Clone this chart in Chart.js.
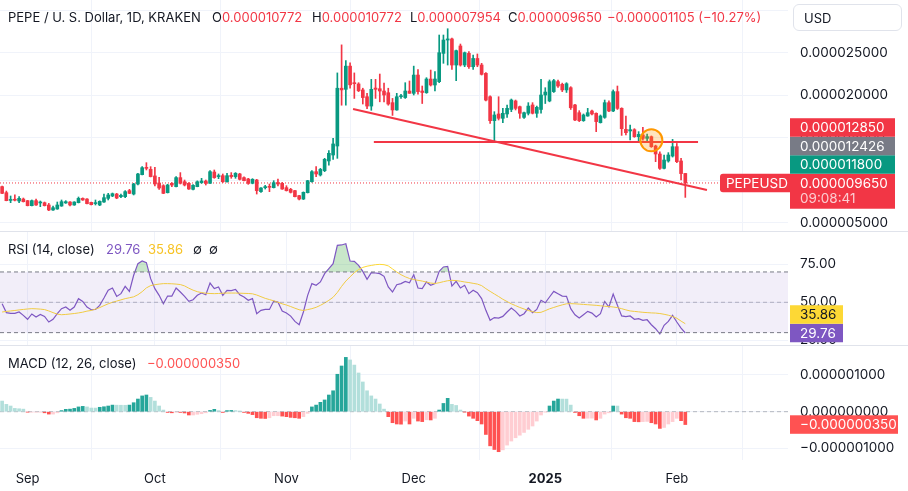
<!DOCTYPE html>
<html>
<head>
<meta charset="utf-8">
<script src="https://cdn.jsdelivr.net/npm/chart.js@4.4.1/dist/chart.umd.min.js"></script>
<style>
  body { margin: 0; background: #fff; }
  #wrap { position: relative; width: 908px; height: 491px; overflow: hidden; font-family: Inter, sans-serif; }
  canvas { position: absolute; left: 0; }
  .sep { position: absolute; left: 0; width: 908px; height: 1px; background: #e0e3eb; }
  .txt { position: absolute; font-size: 13px; line-height: 16px; color: #131722; white-space: nowrap; }
  .red { color: #F23645; }
  #usd { position: absolute; left: 793px; top: 4px; width: 109px; height: 27px; border: 1px solid #e0e3eb;
         border-radius: 6px; background: #fff; font-size: 13px; line-height: 27px; padding-left: 10px; box-sizing: border-box; color: #131722; }
</style>
</head>
<body>
<div id="wrap">
  <canvas id="price" width="908" height="231" style="top:0"></canvas>
  <div class="sep" style="top:231px"></div>
  <canvas id="rsi" width="908" height="113" style="top:232px"></canvas>
  <div class="sep" style="top:345px"></div>
  <canvas id="macd" width="908" height="145" style="top:346px"></canvas>

  <div class="txt" style="left:8px;top:9px">PEPE / U. S. Dollar, 1D, KRAKEN</div>
  <div class="txt" style="left:212px;top:9px">O<span class="red" id="vO"></span></div>
  <div class="txt" style="left:312px;top:9px">H<span class="red" id="vH"></span></div>
  <div class="txt" style="left:410px;top:9px">L<span class="red" id="vL"></span></div>
  <div class="txt" style="left:508px;top:9px">C<span class="red" id="vC"></span></div>
  <div class="txt red" style="left:607px;top:9px" id="vChg"></div>
  <div id="usd">USD</div>

  <div class="txt" style="left:8px;top:241px">RSI (14, close)</div>
  <div class="txt" style="left:106px;top:241px;color:#7E57C2" id="vRsi"></div>
  <div class="txt" style="left:148px;top:241px;color:#F7C325" id="vRsiMa"></div>
  <div class="txt" style="left:193px;top:241px">∅</div>
  <div class="txt" style="left:209px;top:241px">∅</div>

  <div class="txt" style="left:8px;top:355px">MACD (12, 26, close)</div>
  <div class="txt" style="left:147px;top:355px;color:#FF5252" id="vMacd"></div>
</div>
<script>
// daily candles from 2024-08-26 (index 0) to 2025-02-03 (index 161)
// prices are in millionths of a US dollar
const open = [9.22,8.51,7.60,7.70,7.53,7.76,7.57,6.98,7.57,7.30,7.33,7.06,6.47,6.59,6.94,7.30,7.41,7.06,7.33,7.84,
  7.76,7.37,7.22,7.06,7.41,7.84,8.12,8.35,8.04,8.04,8.75,8.35,9.53,10.63,11.45,11.25,10.48,9.65,9.33,8.51,
  9.61,9.22,10.28,9.80,9.61,8.90,9.22,9.69,9.88,9.61,10.94,10.40,10.51,9.80,10.55,10.40,10.71,10.28,10.12,9.61,
  10.00,8.63,9.10,9.22,9.10,9.69,9.61,9.10,8.90,8.75,8.16,7.76,8.51,9.80,10.98,10.59,11.10,12.24,12.94,14.00,
  20.80,20.67,23.40,21.45,21.30,20.60,19.80,18.70,20.82,20.74,20.47,20.27,19.10,18.24,19.80,19.70,20.47,20.20,22.35,20.47,
  20.27,21.88,21.18,21.57,24.90,26.47,26.60,23.53,25.77,23.53,24.90,23.33,24.30,23.53,22.55,19.80,16.98,17.77,17.26,17.77,
  18.30,19.30,18.63,17.37,17.85,18.83,17.85,18.30,20.00,19.30,20.40,21.57,21.26,20.60,20.86,18.83,17.92,16.98,17.53,18.12,
  17.85,16.75,17.37,19.10,18.12,20.40,18.43,15.96,15.77,15.92,15.10,15.30,14.90,15.10,14.00,13.06,11.37,12.24,12.82,13.92,
  12.24,10.772];
const high = [9.30,8.70,8.12,8.27,8.04,7.88,7.60,7.65,7.76,7.53,7.41,7.25,6.94,7.41,7.65,7.57,7.45,7.45,8.00,7.90,
  7.80,7.40,7.65,7.55,8.35,8.43,8.47,8.43,8.35,8.75,8.90,9.61,10.79,11.57,12.04,11.57,11.49,10.32,9.45,9.50,
  9.69,10.40,10.87,10.00,9.70,9.45,9.90,10.20,10.00,11.10,11.18,10.71,10.71,10.79,10.87,10.87,10.79,10.36,10.20,10.16,
  10.08,9.10,9.37,9.53,9.92,10.12,9.73,9.33,9.02,8.80,8.20,8.60,9.96,11.10,11.57,11.37,12.55,13.45,14.90,22.60,
  25.90,24.04,23.80,22.60,21.45,20.80,20.20,21.84,21.84,22.47,21.40,20.80,19.60,20.20,20.08,21.45,21.65,23.40,23.00,21.06,
  22.04,22.94,22.75,27.06,27.06,27.80,26.70,25.30,26.00,25.06,25.10,24.70,24.83,23.73,22.63,19.90,18.04,19.80,18.43,18.83,
  19.53,19.41,18.70,18.00,19.10,19.10,18.70,21.84,20.86,21.77,21.84,21.77,21.40,21.45,20.98,18.90,18.16,17.77,18.43,18.24,
  17.90,17.65,19.41,19.33,20.60,21.06,18.50,17.53,16.47,16.04,15.69,16.20,15.40,15.18,14.10,13.33,12.94,13.22,14.78,14.30,
  12.55,10.772];
const low = [8.40,7.55,7.33,7.55,7.33,7.41,6.95,6.95,7.00,6.86,6.94,6.39,6.43,6.55,6.90,7.25,6.94,7.02,7.30,7.60,
  7.20,7.06,7.06,6.98,7.37,7.65,8.04,7.80,7.92,7.92,8.40,8.24,9.41,10.60,11.18,10.36,9.30,8.90,8.39,8.47,
  9.22,9.18,9.53,9.30,8.90,8.82,9.20,9.60,9.41,9.60,10.20,10.16,9.70,9.75,10.20,10.20,10.00,9.88,9.49,9.55,
  8.35,8.55,8.94,8.63,9.06,9.30,8.90,8.70,8.47,8.00,7.65,7.70,8.47,9.75,10.40,10.47,10.98,11.76,12.43,12.55,
  18.80,18.80,20.80,19.60,20.40,18.94,18.40,18.20,19.60,19.20,19.20,18.80,17.60,18.20,19.60,19.60,20.20,20.00,20.10,19.00,
  20.20,21.06,20.47,21.45,23.73,23.53,23.00,21.70,23.40,23.33,23.14,23.00,23.33,22.35,19.30,16.67,14.51,17.06,16.75,17.37,
  18.04,18.24,17.26,17.26,17.65,17.77,17.37,17.85,19.00,19.20,20.30,20.90,20.40,20.30,18.30,16.98,16.87,16.90,17.50,17.65,
  15.69,16.70,17.26,18.04,18.04,18.30,15.25,15.30,14.71,15.02,14.51,14.70,14.63,13.84,12.16,11.25,11.30,12.10,12.70,12.04,
  10.00,7.954];
const close = [8.43,7.57,7.70,7.62,7.84,7.45,6.98,7.57,7.06,7.35,6.98,6.47,6.74,7.06,7.45,7.45,7.06,7.41,7.84,7.65,
  7.22,7.10,7.30,7.49,7.92,8.24,8.39,7.88,8.20,8.63,8.43,9.53,10.71,11.45,11.37,10.40,9.53,9.06,8.43,9.41,
  9.41,10.28,9.61,9.41,8.94,9.37,9.80,9.88,9.61,10.98,10.28,10.51,9.80,10.51,10.40,10.79,10.08,9.92,9.61,10.08,
  8.75,9.06,9.22,9.14,9.69,9.53,8.94,8.75,8.55,8.04,7.76,8.55,9.92,10.98,10.71,11.25,12.43,13.14,14.24,20.80,
  20.60,23.40,21.20,21.33,20.50,19.70,18.70,20.67,20.67,20.47,20.00,18.94,18.24,19.80,19.85,20.47,20.20,22.35,20.40,20.30,
  21.88,21.18,21.88,24.98,26.47,26.60,23.53,25.22,23.53,24.98,23.33,24.30,23.53,22.43,19.40,16.98,17.65,17.26,17.85,18.43,
  19.41,18.43,17.85,17.92,18.70,17.85,18.55,20.00,20.35,21.57,21.69,21.06,20.60,21.33,18.50,17.06,16.98,17.65,17.92,17.77,
  16.87,17.53,19.10,18.12,20.40,18.43,16.04,15.57,15.92,15.10,15.37,14.90,15.10,13.92,13.06,11.37,12.35,12.94,13.92,12.16,
  10.755,9.65];

const rsi = [49.1,43.2,42.7,42.7,43.6,41.4,38.8,42.3,40.3,42.0,40.7,37.0,38.8,42.5,45.8,46.9,44.7,46.9,52.4,50.6,
  46.9,45.1,45.3,48.0,52.8,57.9,59.4,53.9,55.7,60.5,57.2,67.8,75.5,77.2,76.1,65.6,59.0,54.6,49.1,54.1,
  54.1,59.4,56.8,53.9,50.6,51.7,54.6,56.1,55.0,62.7,59.0,60.1,54.6,57.9,57.7,58.5,55.0,53.5,51.3,52.4,
  42.5,44.7,45.3,45.3,50.8,50.2,44.2,42.9,40.9,37.4,35.2,43.6,54.6,62.3,61.2,63.4,68.9,72.2,75.5,87.5,
  87.8,88.6,77.2,77.0,74.4,70.4,65.1,69.5,69.3,68.9,67.1,60.1,56.8,61.6,62.3,63.8,62.9,68.2,59.4,59.0,
  63.4,61.2,62.3,70.4,73.3,73.7,60.7,63.8,59.4,61.2,55.7,57.9,56.3,52.4,44.7,38.1,39.9,39.6,40.7,43.6,
  46.2,44.0,41.0,42.5,46.2,43.1,45.3,51.3,49.7,53.5,57.2,55.7,54.1,53.9,45.8,41.8,39.6,41.8,44.0,42.9,
  40.3,42.5,50.6,46.9,55.5,48.0,41.0,40.5,41.0,38.8,39.2,38.1,38.5,35.2,32.6,29.1,34.8,37.4,41.4,37.0,
  33.0,29.76];
const rsiMa = [43.6,44.0,44.3,44.6,45.0,45.3,45.6,45.8,45.7,45.5,45.2,44.3,43.2,42.2,41.8,42.0,42.3,42.6,43.0,43.5,
  44.2,44.6,45.5,46.5,47.8,49.0,50.0,50.8,51.6,52.4,53.0,53.6,55.0,57.0,59.5,61.0,61.6,62.0,62.3,62.3,
  62.2,62.0,61.7,60.8,59.3,58.0,57.0,56.4,56.0,55.8,55.7,55.8,56.0,56.1,56.1,56.1,56.0,55.9,55.8,55.6,
  54.8,53.7,52.6,51.8,51.0,50.0,49.0,48.2,47.2,46.1,45.1,44.6,45.2,45.8,46.7,48.0,49.5,51.3,53.3,56.5,
  60.5,64.0,66.8,69.5,71.6,73.0,73.8,74.3,74.8,75.0,74.8,74.0,72.0,70.0,68.2,66.8,65.7,65.0,64.5,64.0,
  63.3,62.7,62.4,62.9,63.6,64.2,64.5,64.3,63.9,63.4,63.0,62.5,62.0,61.0,59.0,57.2,55.5,53.8,52.0,50.5,
  49.0,47.8,46.6,45.6,44.6,43.8,43.2,43.4,44.5,45.7,46.6,47.5,48.3,49.0,49.1,49.0,48.8,48.6,48.4,48.2,
  48.0,47.7,47.4,47.2,46.9,46.5,45.8,45.0,44.3,44.0,43.7,43.4,43.2,43.0,42.9,42.6,42.1,41.5,40.6,39.5,
  37.6,35.86];

// MACD histogram, millionths of a US dollar
const macdHist = [0.29,0.2,0.155,0.09,0.08,0.07,-0.01,-0.01,-0.01,-0.01,-0.03,-0.065,-0.065,-0.03,0.03,0.065,0.07,0.09,0.13,0.145,
  0.13,0.1,0.099,0.12,0.135,0.155,0.18,0.178,0.176,0.175,0.18,0.245,0.345,0.43,0.455,0.39,0.29,0.155,0.045,-0.02,
  -0.03,-0.01,-0.02,-0.035,-0.09,-0.09,-0.07,-0.055,-0.03,0.035,0.065,0.03,-0.02,0.03,0.035,0.03,0.02,-0.02,-0.045,-0.08,
  -0.165,-0.18,-0.185,-0.165,-0.11,-0.11,-0.12,-0.135,-0.155,-0.165,-0.18,-0.135,-0.045,0.13,0.18,0.255,0.32,0.455,0.57,1.02,
  1.245,1.48,1.41,1.27,1.055,0.81,0.57,0.43,0.345,0.21,0.07,-0.135,-0.3,-0.335,-0.34,-0.255,-0.335,-0.18,-0.255,-0.27,
  -0.22,-0.225,-0.18,0.045,0.225,0.365,0.2,0.17,0.045,-0.01,-0.12,-0.18,-0.245,-0.335,-0.62,-0.93,-1.03,-1.09,-1.04,-0.91,
  -0.8,-0.71,-0.64,-0.565,-0.48,-0.39,-0.255,-0.09,-0.005,0.155,0.29,0.345,0.344,0.343,0.18,-0.02,-0.11,-0.18,-0.178,-0.176,
  -0.225,-0.18,-0.065,-0.03,0.155,0.154,-0.065,-0.165,-0.18,-0.27,-0.275,-0.27,-0.265,-0.3,-0.335,-0.455,-0.43,-0.335,-0.27,-0.18,
  -0.245,-0.35];

// x axis: day index of each month start
const monthTicks = [6, 36, 67, 97, 128, 159];
const monthLabels = ['Sep', 'Oct', 'Nov', 'Dec', '2025', 'Feb'];
const priceTicks = [5, 10, 15, 20, 25, 30];
const rsiTicks = [25, 50, 75];
const macdTicks = [-1, 0, 1];

// drawings on the price pane: [day index, price]
const trendDown = [[82.7, 18.35], [166.1, 8.82]];
const trendFlat = [[87.6, 14.47], [164, 14.47]];
const circleAt = [153, 14.67];
// extra price levels shown on the axis
const markerLevels = [
  { value: 11.8, bg: '#089981' },
  { value: 12.426, bg: '#787B86' },
  { value: 12.85, bg: '#F23645' }
];

const GREEN = '#089981', RED = '#F23645';
const X_MIN = -0.5, X_MAX = 185.2;
const last = close.length - 1;

Chart.defaults.font.family = 'Inter';
Chart.defaults.font.size = 13;
Chart.defaults.color = '#131722';

const fmtPrice = v => (v * 1e-6).toFixed(9).replace('-', '−');
const candleColor = i => close[i] >= open[i] ? GREEN : RED;

// header texts
document.getElementById('vO').textContent = fmtPrice(open[last]);
document.getElementById('vH').textContent = fmtPrice(high[last]);
document.getElementById('vL').textContent = fmtPrice(low[last]);
document.getElementById('vC').textContent = fmtPrice(close[last]);
const chg = close[last] - close[last - 1];
document.getElementById('vChg').textContent = fmtPrice(chg) + ' (' + (chg / close[last - 1] * 100).toFixed(2).replace('-', '−') + '%)';
document.getElementById('vRsi').textContent = rsi[last].toFixed(2);
document.getElementById('vRsiMa').textContent = rsiMa[last].toFixed(2);
document.getElementById('vMacd').textContent = fmtPrice(macdHist[last]);

function xScale(showLabels) {
  return {
    type: 'linear', min: X_MIN, max: X_MAX, offset: false,
    afterBuildTicks: s => { s.ticks = monthTicks.map(v => ({ value: v })); },
    grid: { color: '#f0f3fa', drawTicks: false },
    border: { display: false },
    ticks: {
      display: showLabels, padding: 11, maxRotation: 0, autoSkip: false,
      font: ctx => ({ family: 'Inter', size: 13, weight: ctx.index === 4 ? 'bold' : 'normal' }),
      callback: (v, i) => monthLabels[i]
    },
    afterFit: s => { s.height = showLabels ? 31 : 0; s.paddingLeft = 0; s.paddingRight = 0; }
  };
}

function yScale(min, max, ticks, fmt) {
  return {
    position: 'right', min: min, max: max,
    afterBuildTicks: s => { s.ticks = ticks.map(v => ({ value: v })); },
    grid: { color: '#f0f3fa', drawTicks: false },
    border: { display: false },
    ticks: { padding: 12, autoSkip: false, font: { family: 'Inter', size: 13.5 }, callback: fmt },
    afterFit: s => { s.width = 120; s.paddingTop = 0; s.paddingBottom = 0; }
  };
}

// coloured value boxes on the right axis, stacked upward when they overlap
const axisBadges = {
  id: 'axisBadges',
  afterDraw(chart, args, opts) {
    const ctx = chart.ctx, ys = chart.scales.y, right = chart.chartArea.right;
    ctx.save();
    ctx.font = '13.5px Inter';
    ctx.textBaseline = 'middle';
    if (opts.symbol) {
      const yc = ys.getPixelForValue(opts.symbol.value);
      ctx.fillStyle = RED;
      ctx.beginPath();
      ctx.roundRect(right - 68, yc - 9.25, 70, 18.5, [3, 0, 0, 3]);
      ctx.fill();
      ctx.fillStyle = '#fff';
      ctx.fillText(opts.symbol.text, right - 62, yc + 0.5);
    }
    let limit = Infinity;
    (opts.items || []).forEach(b => {
      const h = b.lines.length > 1 ? 35 : 18.5;
      let top = ys.getPixelForValue(b.value) - 9.25;
      if (top + h > limit) top = limit - h;
      ctx.fillStyle = b.bg;
      ctx.fillRect(right + 2, top, b.width, h);
      b.lines.forEach((t, k) => {
        ctx.fillStyle = k ? 'rgba(255,255,255,0.75)' : (b.fg || '#fff');
        ctx.fillText(t, right + 12, top + 9.75 + k * 15.5);
      });
      limit = top;
    });
    ctx.restore();
  }
};

const baseOptions = {
  responsive: false,
  animation: false,
  events: [],
  layout: { padding: 0, autoPadding: false },
  plugins: { legend: { display: false }, tooltip: { enabled: false } }
};

// price pane
new Chart(document.getElementById('price'), {
  type: 'bar',
  data: {
    datasets: [
      {
        type: 'line', order: 10,
        data: [{ x: X_MIN, y: close[last] }, { x: X_MAX, y: close[last] }],
        borderColor: RED, borderWidth: 1, borderDash: [1, 2], pointRadius: 0
      },
      {
        order: 3, grouped: false, barThickness: 1,
        data: open.map((o, i) => ({ x: i, y: [low[i], high[i]] })),
        backgroundColor: ctx => candleColor(ctx.dataIndex)
      },
      {
        order: 2, grouped: false, barThickness: 3, minBarLength: 1,
        data: open.map((o, i) => ({ x: i, y: [o, close[i]] })),
        backgroundColor: ctx => candleColor(ctx.dataIndex)
      },
      {
        type: 'line', order: 1,
        data: trendDown.map(p => ({ x: p[0], y: p[1] })),
        borderColor: RED, borderWidth: 2, pointRadius: 0
      },
      {
        type: 'line', order: 1,
        data: trendFlat.map(p => ({ x: p[0], y: p[1] })),
        borderColor: RED, borderWidth: 2, pointRadius: 0
      },
      {
        type: 'bubble', order: 0,
        data: [{ x: circleAt[0], y: circleAt[1] }],
        radius: 11, borderWidth: 2, borderColor: '#FF9800', backgroundColor: 'rgba(255,152,0,0.25)'
      }
    ]
  },
  options: Object.assign({}, baseOptions, {
    scales: { x: xScale(false), y: yScale(4.0, 31.18, priceTicks, fmtPrice) },
    plugins: Object.assign({}, baseOptions.plugins, {
      axisBadges: {
        symbol: { value: close[last], text: 'PEPEUSD' },
        items: [{ value: close[last], bg: RED, width: 105, lines: [fmtPrice(close[last]), '09:08:41'] }]
          .concat(markerLevels.map(m => ({ value: m.value, bg: m.bg, width: 105, lines: [fmtPrice(m.value)] })))
      }
    })
  }),
  plugins: [axisBadges]
});

// RSI pane
const flat = v => [{ x: X_MIN, y: v }, { x: X_MAX, y: v }];
new Chart(document.getElementById('rsi'), {
  type: 'line',
  data: {
    datasets: [
      { data: flat(70), borderColor: '#787B86', borderWidth: 1, borderDash: [4, 3], pointRadius: 0 },
      { data: flat(30), borderColor: '#787B86', borderWidth: 1, borderDash: [4, 3], pointRadius: 0,
        fill: '-1', backgroundColor: 'rgba(126,87,194,0.1)' },
      { data: flat(50), borderColor: 'rgba(120,123,134,0.5)', borderWidth: 1, borderDash: [4, 3], pointRadius: 0 },
      { data: rsiMa.map((v, i) => ({ x: i, y: v })), borderColor: '#FDD835', borderWidth: 1, pointRadius: 0 },
      { data: rsi.map((v, i) => ({ x: i, y: v })), borderColor: '#7E57C2', borderWidth: 1.2, pointRadius: 0,
        fill: { target: { value: 70 }, above: 'rgba(76,175,80,0.3)', below: 'rgba(0,0,0,0)' } }
    ]
  },
  options: Object.assign({}, baseOptions, {
    scales: { x: xScale(false), y: yScale(21.85, 96.34, rsiTicks, v => v.toFixed(2)) },
    plugins: Object.assign({}, baseOptions.plugins, {
      axisBadges: {
        items: [
          { value: rsi[last], bg: '#7E57C2', width: 53, lines: [rsi[last].toFixed(2)] },
          { value: rsiMa[last], bg: '#FDD835', fg: '#131722', width: 53, lines: [rsiMa[last].toFixed(2)] }
        ]
      }
    })
  }),
  plugins: [axisBadges]
});

// MACD pane
new Chart(document.getElementById('macd'), {
  type: 'bar',
  data: {
    datasets: [
      { type: 'line', order: 5, data: flat(0), borderColor: 'rgba(120,123,134,0.5)', borderWidth: 1,
        borderDash: [4, 3], pointRadius: 0 },
      {
        order: 1, grouped: false, barThickness: 3,
        data: macdHist.map((v, i) => ({ x: i, y: v })),
        backgroundColor: ctx => {
          const i = ctx.dataIndex, v = macdHist[i];
          const prev = i > 0 ? macdHist[i - 1] : Infinity;
          if (v >= 0) return v >= prev ? '#26A69A' : '#B2DFDB';
          return v < prev ? '#FF5252' : '#FFCDD2';
        }
      }
    ]
  },
  options: Object.assign({}, baseOptions, {
    scales: { x: xScale(true), y: yScale(-1.316, 1.79, macdTicks, fmtPrice) },
    plugins: Object.assign({}, baseOptions.plugins, {
      axisBadges: {
        items: [{ value: macdHist[last], bg: '#FF5252', width: 108, lines: [fmtPrice(macdHist[last])] }]
      }
    })
  }),
  plugins: [axisBadges]
});
</script>
</body>
</html>
